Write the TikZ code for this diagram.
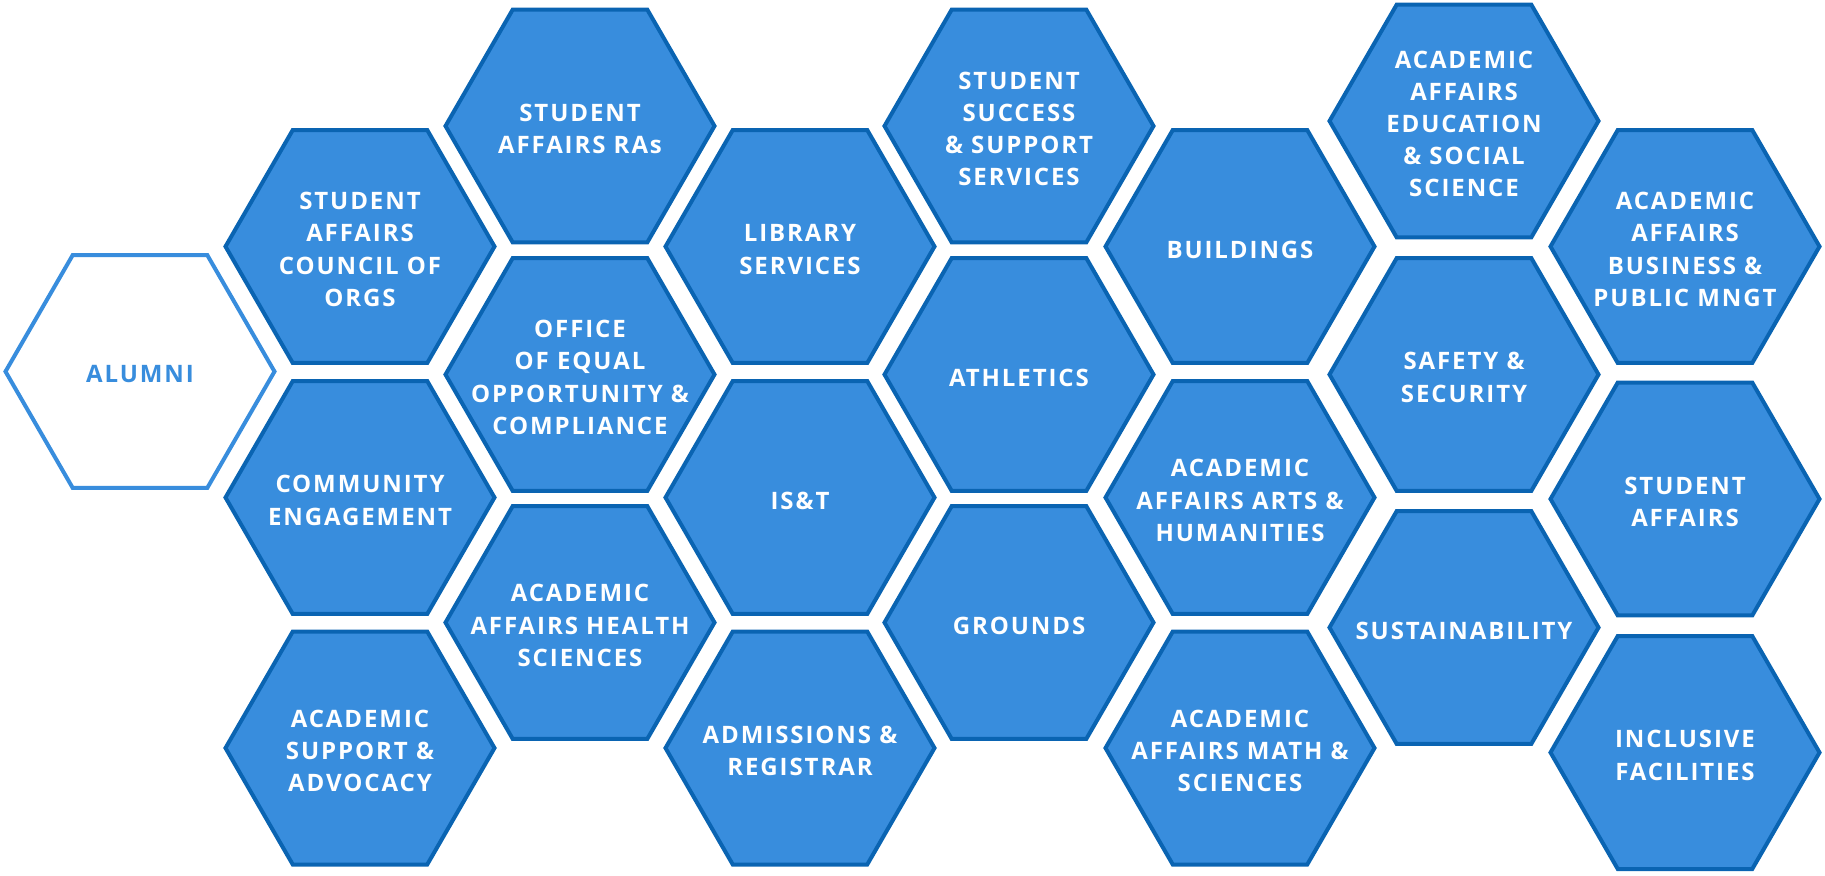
\documentclass[tikz,border=0pt]{standalone}
\usepackage{fontspec}
\setmainfont{Open Sans}[BoldFont={* Bold}]
\newfontfamily\hexfont{Open Sans Bold}[LetterSpace=8]
\usepackage{tikz}
\usetikzlibrary{shapes.geometric}

\definecolor{hexfill}{RGB}{56,141,221}
\definecolor{hexline}{RGB}{10,100,178}

\begin{document}
\begin{tikzpicture}[x=0.5pt,y=-0.5pt,
    hexbox/.style={regular polygon, regular polygon sides=6, minimum size=134.5pt,
        inner sep=0pt, line width=2pt, draw=hexline, fill=hexfill,
        label={[hextext]center:#1}},
    hextext/.style={text=white, align=center, inner sep=0pt, yshift=-1.5pt,
        font=\hexfont\fontsize{12}{16.1}\selectfont},
    alumnibox/.style={hexbox, draw=hexfill, fill=white,
        label={[hextext, text=hexfill]center:#1}}]
    \useasboundingbox (0,0) rectangle (1825,875);

    \node[alumnibox=ALUMNI] (alumni) at (140,371.5) {};

    \node[hexbox={STUDENT\\AFFAIRS\\COUNCIL OF\\ORGS}] (council) at (360,246.5) {};
    \node[hexbox={COMMUNITY\\ENGAGEMENT}] (community) at (360,497.5) {};
    \node[hexbox={ACADEMIC\\SUPPORT \&\\ADVOCACY}] (support) at (360,748) {};

    \node[hexbox={STUDENT\\AFFAIRS RAs}] (ras) at (580,126) {};
    \node[hexbox={OFFICE\\OF EQUAL\\OPPORTUNITY \&\\COMPLIANCE}] (equal) at (580,374.5) {};
    \node[hexbox={ACADEMIC\\AFFAIRS HEALTH\\SCIENCES}] (health) at (580,622.5) {};

    \node[hexbox={LIBRARY\\SERVICES}] (library) at (800,246.5) {};
    \node[hexbox={IS\&T}] (ist) at (800,497.5) {};
    \node[hexbox={ADMISSIONS \&\\REGISTRAR}] (admissions) at (800,748) {};

    \node[hexbox={STUDENT\\SUCCESS\\\& SUPPORT\\SERVICES}] (success) at (1019,126) {};
    \node[hexbox=ATHLETICS] (athletics) at (1019,374.5) {};
    \node[hexbox=GROUNDS] (grounds) at (1019,622.5) {};

    \node[hexbox=BUILDINGS] (buildings) at (1240,246.5) {};
    \node[hexbox={ACADEMIC\\AFFAIRS ARTS \&\\HUMANITIES}] (arts) at (1240,497.5) {};
    \node[hexbox={ACADEMIC\\AFFAIRS MATH \&\\SCIENCES}] (math) at (1240,748) {};

    \node[hexbox={ACADEMIC\\AFFAIRS\\EDUCATION\\\& SOCIAL\\SCIENCE}] (education) at (1464,121) {};
    \node[hexbox={SAFETY \&\\SECURITY}] (safety) at (1464,374.5) {};
    \node[hexbox=SUSTAINABILITY] (sustain) at (1464,627.5) {};

    \node[hexbox={ACADEMIC\\AFFAIRS\\BUSINESS \&\\PUBLIC MNGT}] (business) at (1685,246.5) {};
    \node[hexbox={STUDENT\\AFFAIRS}] (stuaffairs) at (1685,499) {};
    \node[hexbox={INCLUSIVE\\FACILITIES}] (inclusive) at (1685,752.5) {};
\end{tikzpicture}
\end{document}
